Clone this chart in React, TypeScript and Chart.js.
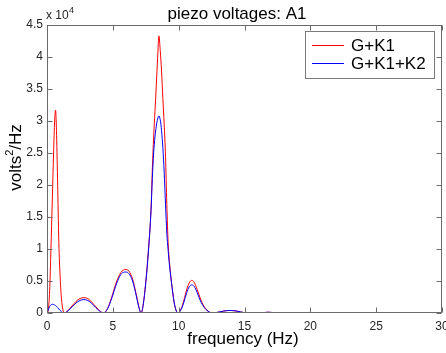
import React, { useEffect, useRef } from "react";
import { Chart, registerables } from "chart.js";

Chart.register(...registerables);

const TITLE = "piezo voltages: A1";
const X_LABEL = "frequency (Hz)";
const SERIES_NAMES = ["G+K1", "G+K1+K2"];
const SERIES_COLORS = ["#ff0000", "#0000ff"];
const X_TICKS = [0, 5, 10, 15, 20, 25, 30];
const Y_TICKS = [0, 0.5, 1, 1.5, 2, 2.5, 3, 3.5, 4, 4.5];

// frequency (Hz)
const FREQ = [
  0, 0.1, 0.2, 0.3, 0.4, 0.5, 0.58, 0.65, 0.72, 0.8, 0.9, 1.0, 1.1, 1.2, 1.3,
  1.6, 1.9, 2.2, 2.5, 2.8, 3.1, 3.4, 3.7, 4.0, 4.3,
  4.6, 4.9, 5.3, 5.6, 5.8, 6.0, 6.2, 6.5, 6.8, 7.0, 7.15,
  7.3, 7.5, 7.7, 7.9, 8.0, 8.1, 8.2, 8.3, 8.4, 8.5, 8.6, 8.7, 8.8, 8.9, 9.0, 9.1, 9.2, 9.3, 9.5, 9.7, 9.95,
  10.2, 10.4, 10.6, 10.8, 11.0, 11.2, 11.4, 11.7, 12.0, 12.3, 12.5,
  12.9, 13.4, 13.9, 14.4, 15.0, 15.6, 16.3, 16.8, 17.4, 18, 30,
];

// volts^2/Hz, units of 1e4
const G_K1 = [
  0, 0.05, 0.35, 1.0, 1.75, 2.5, 3.0, 3.17, 2.85, 2.1, 1.1, 0.55, 0.22, 0.06, 0,
  0.04, 0.11, 0.18, 0.225, 0.24, 0.225, 0.17, 0.1, 0.035, 0,
  0.07, 0.24, 0.5, 0.63, 0.67, 0.68, 0.66, 0.53, 0.27, 0.08, 0,
  0.12, 0.48, 0.98, 1.62, 2.25, 2.75, 3.15, 3.55, 3.98, 4.33, 4.1, 3.78, 3.35, 2.95, 2.45, 1.7, 1.1, 0.8, 0.4, 0.12, 0,
  0.07, 0.2, 0.36, 0.47, 0.51, 0.47, 0.37, 0.2, 0.08, 0.02, 0,
  0.008, 0.03, 0.04, 0.03, 0.005, 0, 0.003, 0.012, 0.003, 0, 0,
];

const G_K1_K2 = [
  0, 0.05, 0.1, 0.125, 0.137, 0.133, 0.125, 0.115, 0.105, 0.085, 0.062, 0.04, 0.02, 0.006, 0,
  0.035, 0.095, 0.155, 0.195, 0.21, 0.195, 0.15, 0.085, 0.03, 0,
  0.065, 0.22, 0.47, 0.6, 0.635, 0.64, 0.62, 0.5, 0.25, 0.07, 0,
  0.12, 0.47, 0.95, 1.6, 2.1, 2.5, 2.75, 2.92, 3.03, 3.08, 3.02, 2.85, 2.58, 2.2, 1.7, 1.25, 0.98, 0.75, 0.4, 0.12, 0,
  0.06, 0.17, 0.31, 0.41, 0.44, 0.41, 0.32, 0.17, 0.07, 0.018, 0,
  0.008, 0.03, 0.04, 0.03, 0.005, 0, 0.003, 0.012, 0.003, 0, 0,
];

const FONT = "'Liberation Sans', Arial, Helvetica, sans-serif";

const decorPlugin = {
  id: "decor",
  afterDatasetsDraw(chart: any) {
    const { ctx, chartArea: a, scales } = chart;
    const L = Math.round(a.left) + 0.5;
    const R = Math.round(a.right) - 0.5;
    const T = Math.round(a.top) + 0.5;
    const B = Math.round(a.bottom) - 0.5;
    ctx.save();
    ctx.strokeStyle = "#6a6a6a";
    ctx.lineWidth = 1;
    ctx.strokeRect(L, T, R - L, B - T);
    ctx.beginPath();
    for (const v of X_TICKS) {
      const px = Math.round(scales.x.getPixelForValue(v)) + 0.5;
      ctx.moveTo(px, B);
      ctx.lineTo(px, B - 5);
      ctx.moveTo(px, T);
      ctx.lineTo(px, T + 5);
    }
    for (const v of Y_TICKS) {
      const py = Math.round(scales.y.getPixelForValue(v)) + 0.5;
      ctx.moveTo(L, py);
      ctx.lineTo(L + 5, py);
      ctx.moveTo(R, py);
      ctx.lineTo(R - 5, py);
    }
    ctx.stroke();

    // legend
    const lx = 305.5, ly = 31.5, lw = 129, lh = 47;
    ctx.fillStyle = "#ffffff";
    ctx.fillRect(lx, ly, lw, lh);
    ctx.strokeStyle = "#7a7a7a";
    ctx.strokeRect(lx, ly, lw, lh);
    ctx.font = `17px ${FONT}`;
    ctx.textBaseline = "middle";
    ctx.textAlign = "left";
    SERIES_NAMES.forEach((name, i) => {
      const y = 45.5 + i * 18;
      ctx.strokeStyle = SERIES_COLORS[i];
      ctx.beginPath();
      ctx.moveTo(312, y);
      ctx.lineTo(344, y);
      ctx.stroke();
      ctx.fillStyle = "#000000";
      ctx.fillText(name, 351, y + 0.5);
    });
    ctx.restore();
  },
  afterDraw(chart: any) {
    const { ctx } = chart;
    ctx.save();
    ctx.fillStyle = "#000000";
    ctx.textBaseline = "alphabetic";
    // title
    ctx.font = `17px ${FONT}`;
    ctx.textAlign = "center";
    ctx.fillText(TITLE, 237, 19);
    // x label
    ctx.font = `17px ${FONT}`;
    ctx.fillText(X_LABEL, 243, 344);
    // exponent
    ctx.fillStyle = "#262626";
    ctx.textAlign = "left";
    ctx.font = `12px ${FONT}`;
    ctx.fillText("x 10", 46, 19);
    ctx.font = `9px ${FONT}`;
    ctx.fillText("4", 69, 13);
    // y label
    ctx.fillStyle = "#000000";
    ctx.translate(20.5, 157.5);
    ctx.rotate(-Math.PI / 2);
    ctx.font = `17px ${FONT}`;
    const w1 = ctx.measureText("volts").width;
    const w3 = ctx.measureText("/Hz").width;
    ctx.font = `11px ${FONT}`;
    const w2 = ctx.measureText("2").width;
    const total = w1 + w2 + w3;
    let x = -total / 2;
    ctx.font = `17px ${FONT}`;
    ctx.fillText("volts", x, 0);
    x += w1;
    ctx.font = `11px ${FONT}`;
    ctx.fillText("2", x, -8);
    x += w2;
    ctx.font = `17px ${FONT}`;
    ctx.fillText("/Hz", x, 0);
    ctx.restore();
  },
};

export default function App() {
  const ref = useRef<HTMLCanvasElement | null>(null);
  useEffect(() => {
    if (!ref.current) return;
    const mk = (vals: number[]) => FREQ.map((f, i) => ({ x: f, y: vals[i] }));
    const chart = new Chart(ref.current, {
      type: "line",
      data: {
        datasets: [
          {
            label: SERIES_NAMES[0],
            data: mk(G_K1),
            borderColor: SERIES_COLORS[0],
            borderWidth: 1,
            pointRadius: 0,
            cubicInterpolationMode: "monotone",
            order: 1,
          },
          {
            label: SERIES_NAMES[1],
            data: mk(G_K1_K2),
            borderColor: SERIES_COLORS[1],
            borderWidth: 1,
            pointRadius: 0,
            cubicInterpolationMode: "monotone",
            order: 0,
          },
        ],
      },
      options: {
        animation: false,
        responsive: false,
        devicePixelRatio: 1,
        layout: { padding: { top: 25, right: 4, left: 0, bottom: 0 } },
        plugins: { legend: { display: false }, tooltip: { enabled: false }, title: { display: false } },
        scales: {
          x: {
            type: "linear",
            min: 0,
            max: 30,
            afterBuildTicks: (s: any) => { s.ticks = X_TICKS.map((v) => ({ value: v })); },
            ticks: { color: "#262626", font: { size: 12, family: FONT }, padding: 6, maxRotation: 0, autoSkip: false },
            grid: { display: false, drawTicks: false },
            border: { display: false },
            afterFit: (s: any) => { s.height = 40; s.paddingLeft = 0; s.paddingRight = 0; },
          },
          y: {
            type: "linear",
            min: 0,
            max: 4.5,
            afterBuildTicks: (s: any) => { s.ticks = Y_TICKS.map((v) => ({ value: v })); },
            ticks: { color: "#262626", font: { size: 12, family: FONT }, padding: 4, callback: (v: any) => String(v), autoSkip: false },
            grid: { display: false, drawTicks: false },
            border: { display: false },
            afterFit: (s: any) => { s.width = 47; s.paddingTop = 0; s.paddingBottom = 0; },
          },
        },
      },
      plugins: [decorPlugin],
    } as any);
    return () => chart.destroy();
  }, []);
  return (
    <div style={{ position: "fixed", left: 0, top: 0, width: 446, height: 353, background: "#fff" }}>
      <canvas ref={ref} width={446} height={353} style={{ display: "block" }} />
    </div>
  );
}
